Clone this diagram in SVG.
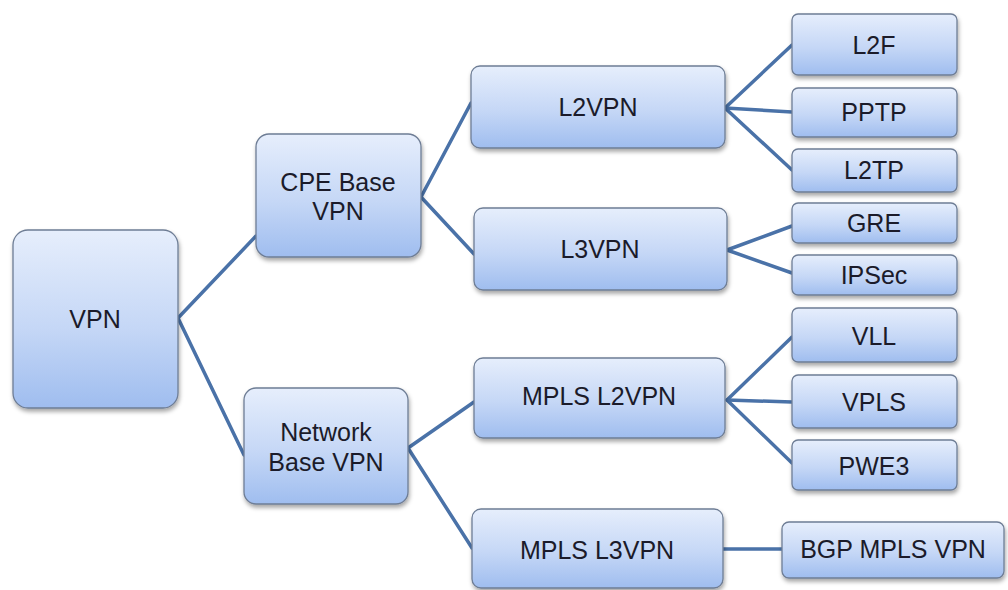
<svg xmlns="http://www.w3.org/2000/svg" width="1008" height="590" viewBox="0 0 1008 590">
<defs>
<linearGradient id="g" x1="0" y1="0" x2="0" y2="1">
<stop offset="0" stop-color="#e6eefc"/>
<stop offset="0.55" stop-color="#c5d7f6"/>
<stop offset="1" stop-color="#9fbdef"/>
</linearGradient>
<filter id="sh" x="-10%" y="-10%" width="130%" height="140%">
<feDropShadow dx="1" dy="3" stdDeviation="2" flood-color="#000" flood-opacity="0.35"/>
</filter>
<style>
.n rect{fill:url(#g);stroke:#6e7d95;stroke-width:1.3;filter:url(#sh)}
.n text{font-family:"Liberation Sans",Arial,sans-serif;font-size:25px;fill:#1b1b2a;text-anchor:middle;dominant-baseline:central}
#connectors path{fill:none;stroke:#4a72a8;stroke-width:3.5;stroke-linejoin:round;stroke-linecap:round}
</style>
</defs>
<rect width="1008" height="590" fill="#fff"/>
<g id="connectors">
<path d="M256,236 L178,318 L244,455"/>
<path d="M471,103 L421,197 L474,254"/>
<path d="M792,45 L725,108 L792,170"/>
<path d="M725,108 L792,112"/>
<path d="M792,226 L727,250 L792,273"/>
<path d="M474,402 L408,448 L472,548"/>
<path d="M792,337 L727,400 L792,463"/>
<path d="M727,400 L792,402"/>
<path d="M723,549 L782,549"/>
</g>
<g id="n-vpn" class="n"><rect x="13" y="230" width="165" height="178" rx="15"/><text x="95" y="319">VPN</text></g>
<g id="n-cpe" class="n"><rect x="256" y="134" width="165" height="123" rx="13"/><text x="338" y="182">CPE Base</text><text x="338" y="211">VPN</text></g>
<g id="n-net" class="n"><rect x="244" y="388" width="164" height="116" rx="12"/><text x="326" y="432">Network</text><text x="326" y="462">Base VPN</text></g>
<g id="n-l2vpn" class="n"><rect x="471" y="66" width="254" height="82" rx="9"/><text x="598" y="107">L2VPN</text></g>
<g id="n-l3vpn" class="n"><rect x="474" y="208" width="253" height="82" rx="9"/><text x="600" y="249">L3VPN</text></g>
<g id="n-mplsl2" class="n"><rect x="474" y="358" width="251" height="80" rx="9"/><text x="599" y="396">MPLS L2VPN</text></g>
<g id="n-mplsl3" class="n"><rect x="472" y="509" width="251" height="79" rx="9"/><text x="597" y="550">MPLS L3VPN</text></g>
<g id="n-l2f" class="n"><rect x="792" y="14" width="165" height="61" rx="6"/><text x="874" y="45">L2F</text></g>
<g id="n-pptp" class="n"><rect x="792" y="88" width="165" height="49" rx="6"/><text x="874" y="112">PPTP</text></g>
<g id="n-l2tp" class="n"><rect x="792" y="149" width="165" height="43" rx="6"/><text x="874" y="170">L2TP</text></g>
<g id="n-gre" class="n"><rect x="792" y="203" width="165" height="40" rx="6"/><text x="874" y="223">GRE</text></g>
<g id="n-ipsec" class="n"><rect x="792" y="255" width="165" height="40" rx="6"/><text x="874" y="275">IPSec</text></g>
<g id="n-vll" class="n"><rect x="792" y="308" width="165" height="54" rx="6"/><text x="874" y="336">VLL</text></g>
<g id="n-vpls" class="n"><rect x="792" y="375" width="165" height="53" rx="6"/><text x="874" y="402">VPLS</text></g>
<g id="n-pwe3" class="n"><rect x="792" y="440" width="165" height="50" rx="6"/><text x="874" y="466">PWE3</text></g>
<g id="n-bgp" class="n"><rect x="782" y="522" width="222" height="56" rx="7"/><text x="893" y="549">BGP MPLS VPN</text></g>
</svg>
